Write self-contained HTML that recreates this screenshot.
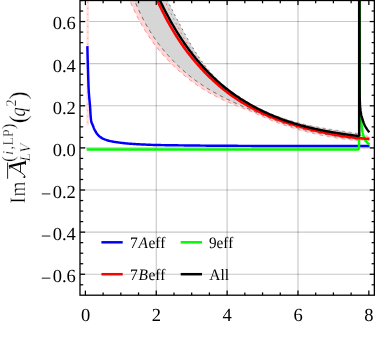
<!DOCTYPE html>
<html><head><meta charset="utf-8"><title>chart</title>
<style>html,body{margin:0;padding:0;background:#fff;}body{width:375px;height:360px;overflow:hidden;position:relative;font-family:"Liberation Serif",serif;}</style></head>
<body>
<svg width="375" height="360" viewBox="0 0 375 360" style="position:absolute;left:0;top:0;text-rendering:geometricPrecision;will-change:transform">
<rect width="375" height="360" fill="#fff"/>
<defs><clipPath id="c"><rect x="80.0" y="0" width="294.35" height="295.2"/></clipPath></defs>
<g stroke="#000" stroke-opacity="0.22" stroke-width="1.15" fill="none">
<line x1="156.26" y1="0" x2="156.26" y2="295.2"/>
<line x1="227.12" y1="0" x2="227.12" y2="295.2"/>
<line x1="297.98" y1="0" x2="297.98" y2="295.2"/>
<line x1="80.0" y1="21.54" x2="374.35" y2="21.54"/>
<line x1="80.0" y1="63.66" x2="374.35" y2="63.66"/>
<line x1="80.0" y1="105.78" x2="374.35" y2="105.78"/>
<line x1="80.0" y1="147.90" x2="374.35" y2="147.90"/>
<line x1="80.0" y1="190.02" x2="374.35" y2="190.02"/>
<line x1="80.0" y1="232.14" x2="374.35" y2="232.14"/>
<line x1="80.0" y1="274.26" x2="374.35" y2="274.26"/>
</g>
<g clip-path="url(#c)" fill="none" stroke-linejoin="round">
<rect x="86.3" y="0" width="2.7" height="125.5" fill="#ffe6e6"/>
<line x1="87.8" y1="1.5" x2="87.8" y2="125.5" stroke="#ff7070" stroke-width="0.6" stroke-dasharray="1.6,4.4"/>
<path d="M119.80,-25.39 L120.64,-22.98 L121.47,-20.62 L122.31,-18.30 L123.14,-16.02 L123.98,-13.79 L124.81,-11.59 L125.65,-9.44 L126.48,-7.33 L127.32,-5.26 L128.15,-3.22 L128.99,-1.23 L129.82,0.73 L130.66,2.65 L131.49,4.54 L132.33,6.39 L133.16,8.20 L134.00,9.98 L134.83,11.72 L135.67,13.43 L136.50,15.11 L137.34,16.76 L138.17,18.37 L139.01,19.95 L139.84,21.51 L140.68,23.03 L141.51,24.52 L142.35,25.99 L143.18,27.42 L144.02,28.83 L144.85,30.22 L145.69,31.57 L146.52,32.90 L147.36,34.21 L148.19,35.49 L149.03,36.75 L149.86,37.98 L150.70,39.19 L151.53,40.38 L152.37,41.55 L153.20,42.70 L154.04,43.82 L154.87,44.93 L155.71,46.02 L156.55,47.09 L157.38,48.14 L158.22,49.18 L159.05,50.20 L159.89,51.20 L160.72,52.19 L161.56,53.16 L162.39,54.12 L163.23,55.07 L164.06,56.00 L164.90,56.92 L165.73,57.83 L166.57,58.73 L167.40,59.61 L168.24,60.49 L169.07,61.36 L169.91,62.21 L170.74,63.06 L171.58,63.90 L172.41,64.72 L173.25,65.54 L174.08,66.35 L174.92,67.14 L175.75,67.93 L176.59,68.71 L177.42,69.48 L178.26,70.24 L179.09,70.99 L179.93,71.74 L180.76,72.47 L181.60,73.19 L182.43,73.91 L183.27,74.61 L184.10,75.31 L184.94,76.00 L185.77,76.68 L186.61,77.36 L187.44,78.02 L188.28,78.68 L189.11,79.33 L189.95,79.97 L190.78,80.60 L191.62,81.22 L192.46,81.84 L193.29,82.45 L194.13,83.05 L194.96,83.65 L195.80,84.23 L196.63,84.81 L197.47,85.38 L198.30,85.95 L199.14,86.51 L199.97,87.06 L200.81,87.60 L201.64,88.14 L202.48,88.67 L203.31,89.20 L204.15,89.71 L204.98,90.23 L205.82,90.73 L206.65,91.23 L207.49,91.72 L208.32,92.21 L209.16,92.69 L209.99,93.16 L210.83,93.63 L211.66,94.10 L212.50,94.55 L213.33,95.00 L214.17,95.45 L215.00,95.89 L215.84,96.33 L216.67,96.76 L217.51,97.18 L218.34,97.60 L219.18,98.02 L220.01,98.43 L220.85,98.84 L221.68,99.24 L222.52,99.63 L223.35,100.03 L224.19,100.42 L225.02,100.80 L225.86,101.18 L226.69,101.55 L227.53,101.92 L228.37,102.29 L229.20,102.65 L230.04,103.01 L230.87,103.37 L231.71,103.72 L232.54,104.07 L233.38,104.42 L234.21,104.76 L235.05,105.10 L235.88,105.43 L236.72,105.77 L237.55,106.10 L238.39,106.42 L239.22,106.75 L240.06,107.07 L240.89,107.39 L241.73,107.72 L242.56,108.04 L243.40,108.36 L244.23,108.69 L245.07,109.01 L245.90,109.34 L246.74,109.67 L247.57,110.01 L248.41,110.35 L249.24,110.69 L250.08,111.04 L250.91,111.40 L251.75,111.76 L252.58,112.13 L253.42,112.50 L254.25,112.87 L255.09,113.24 L255.92,113.62 L256.76,114.00 L257.59,114.38 L258.43,114.76 L259.26,115.14 L260.10,115.52 L260.93,115.89 L261.77,116.27 L262.61,116.64 L263.44,117.00 L264.28,117.37 L265.11,117.73 L265.95,118.08 L266.78,118.44 L267.62,118.79 L268.45,119.13 L269.29,119.48 L270.12,119.82 L270.96,120.16 L271.79,120.49 L272.63,120.82 L273.46,121.15 L274.30,121.47 L275.13,121.80 L275.97,122.12 L276.80,122.43 L277.64,122.74 L278.47,123.05 L279.31,123.36 L280.14,123.67 L280.98,123.97 L281.81,124.26 L282.65,124.56 L283.48,124.85 L284.32,125.14 L285.15,125.43 L285.99,125.71 L286.82,125.99 L287.66,126.27 L288.49,126.55 L289.33,126.82 L290.16,127.09 L291.00,127.36 L291.83,127.62 L292.67,127.88 L293.50,128.14 L294.34,128.40 L295.17,128.65 L296.01,128.90 L296.84,129.15 L297.68,129.39 L298.52,129.64 L299.35,129.88 L300.19,130.11 L301.02,130.35 L301.86,130.58 L302.69,130.81 L303.53,131.04 L304.36,131.26 L305.20,131.48 L306.03,131.70 L306.87,131.92 L307.70,132.13 L308.54,132.34 L309.37,132.55 L310.21,132.76 L311.04,132.96 L311.88,133.16 L312.71,133.36 L313.55,133.55 L314.38,133.75 L315.22,133.94 L316.05,134.13 L316.89,134.31 L317.72,134.50 L318.56,134.68 L319.39,134.86 L320.23,135.03 L321.06,135.21 L321.90,135.38 L322.73,135.55 L323.57,135.71 L324.40,135.88 L325.24,136.04 L326.07,136.20 L326.91,136.36 L327.74,136.51 L328.58,136.66 L329.41,136.81 L330.25,136.96 L331.08,137.11 L331.92,137.25 L332.75,137.39 L333.59,137.53 L334.43,137.67 L335.26,137.80 L336.10,137.93 L336.93,138.06 L337.77,138.19 L338.60,138.32 L339.44,138.44 L340.27,138.56 L341.11,138.68 L341.94,138.80 L342.78,138.91 L343.61,139.03 L344.45,139.14 L345.28,139.24 L346.12,139.35 L346.95,139.45 L347.79,139.56 L348.62,139.66 L349.46,139.76 L350.29,139.85 L351.13,139.95 L351.96,140.04 L352.80,140.13 L353.63,140.22 L354.47,140.30 L355.30,140.39 L356.14,140.47 L356.97,140.55 L357.81,140.63 L358.64,140.70 L359.48,140.78 L360.31,140.85 L361.15,140.92 L361.98,140.99 L362.82,141.05 L363.65,141.12 L364.49,141.18 L365.32,141.24 L366.16,141.30 L366.99,141.36 L367.83,141.41 L368.66,141.47 L369.50,141.52 L369.50,136.41 L368.77,136.30 L368.04,136.19 L367.31,136.08 L366.58,135.97 L365.85,135.86 L365.13,135.76 L364.40,135.65 L363.67,135.54 L362.94,135.43 L362.21,135.33 L361.48,135.22 L360.75,135.11 L360.02,135.00 L359.29,134.90 L358.56,134.79 L357.83,134.68 L357.11,134.58 L356.38,134.47 L355.65,134.36 L354.92,134.25 L354.19,134.15 L353.46,134.04 L352.73,133.93 L352.00,133.82 L351.27,133.72 L350.54,133.61 L349.81,133.50 L349.09,133.39 L348.36,133.28 L347.63,133.17 L346.90,133.06 L346.17,132.95 L345.44,132.84 L344.71,132.73 L343.98,132.62 L343.25,132.50 L342.52,132.39 L341.79,132.28 L341.07,132.16 L340.34,132.05 L339.61,131.93 L338.88,131.81 L338.15,131.70 L337.42,131.58 L336.69,131.46 L335.96,131.34 L335.23,131.22 L334.50,131.10 L333.77,130.97 L333.05,130.85 L332.32,130.73 L331.59,130.60 L330.86,130.47 L330.13,130.35 L329.40,130.22 L328.67,130.09 L327.94,129.96 L327.21,129.83 L326.48,129.69 L325.75,129.56 L325.03,129.42 L324.30,129.28 L323.57,129.15 L322.84,129.01 L322.11,128.86 L321.38,128.72 L320.65,128.58 L319.92,128.43 L319.19,128.29 L318.46,128.14 L317.73,127.99 L317.01,127.84 L316.28,127.68 L315.55,127.53 L314.82,127.37 L314.09,127.21 L313.36,127.05 L312.63,126.89 L311.90,126.73 L311.17,126.56 L310.44,126.40 L309.71,126.23 L308.98,126.06 L308.26,125.88 L307.53,125.71 L306.80,125.53 L306.07,125.35 L305.34,125.17 L304.61,124.99 L303.88,124.80 L303.15,124.62 L302.42,124.43 L301.69,124.24 L300.96,124.04 L300.24,123.85 L299.51,123.65 L298.78,123.45 L298.05,123.25 L297.32,123.04 L296.59,122.83 L295.86,122.63 L295.13,122.41 L294.40,122.20 L293.67,121.98 L292.94,121.76 L292.22,121.54 L291.49,121.31 L290.76,121.09 L290.03,120.86 L289.30,120.63 L288.57,120.39 L287.84,120.15 L287.11,119.91 L286.38,119.67 L285.65,119.42 L284.92,119.17 L284.20,118.92 L283.47,118.67 L282.74,118.41 L282.01,118.15 L281.28,117.88 L280.55,117.62 L279.82,117.35 L279.09,117.07 L278.36,116.80 L277.63,116.52 L276.90,116.24 L276.18,115.95 L275.45,115.66 L274.72,115.37 L273.99,115.08 L273.26,114.78 L272.53,114.48 L271.80,114.17 L271.07,113.86 L270.34,113.55 L269.61,113.24 L268.88,112.92 L268.16,112.60 L267.43,112.27 L266.70,111.94 L265.97,111.61 L265.24,111.27 L264.51,110.93 L263.78,110.59 L263.05,110.24 L262.32,109.89 L261.59,109.54 L260.86,109.18 L260.14,108.82 L259.41,108.45 L258.68,108.08 L257.95,107.71 L257.22,107.33 L256.49,106.95 L255.76,106.56 L255.03,106.17 L254.30,105.78 L253.57,105.38 L252.84,104.98 L252.12,104.58 L251.39,104.17 L250.66,103.75 L249.93,103.33 L249.20,102.91 L248.47,102.48 L247.74,102.05 L247.01,101.62 L246.28,101.18 L245.55,100.73 L244.82,100.29 L244.10,99.83 L243.37,99.38 L242.64,98.91 L241.91,98.45 L241.18,97.98 L240.45,97.50 L239.72,97.02 L238.99,96.54 L238.26,96.05 L237.53,95.56 L236.80,95.06 L236.08,94.55 L235.35,94.05 L234.62,93.53 L233.89,93.02 L233.16,92.49 L232.43,91.97 L231.70,91.43 L230.97,90.90 L230.24,90.36 L229.51,89.81 L228.78,89.26 L228.06,88.70 L227.33,88.14 L226.60,87.57 L225.87,87.00 L225.14,86.42 L224.41,85.84 L223.68,85.25 L222.95,84.65 L222.22,84.05 L221.49,83.44 L220.76,82.83 L220.04,82.21 L219.31,81.58 L218.58,80.94 L217.85,80.30 L217.12,79.65 L216.39,78.99 L215.66,78.32 L214.93,77.64 L214.20,76.96 L213.47,76.26 L212.74,75.56 L212.02,74.85 L211.29,74.12 L210.56,73.39 L209.83,72.65 L209.10,71.90 L208.37,71.13 L207.64,70.36 L206.91,69.58 L206.18,68.78 L205.45,67.97 L204.72,67.15 L203.99,66.32 L203.27,65.48 L202.54,64.62 L201.81,63.76 L201.08,62.88 L200.35,61.98 L199.62,61.08 L198.89,60.16 L198.16,59.22 L197.43,58.28 L196.70,57.31 L195.97,56.34 L195.25,55.35 L194.52,54.34 L193.79,53.32 L193.06,52.29 L192.33,51.24 L191.60,50.17 L190.87,49.09 L190.14,47.99 L189.41,46.88 L188.68,45.74 L187.95,44.60 L187.23,43.43 L186.50,42.25 L185.77,41.05 L185.04,39.83 L184.31,38.60 L183.58,37.34 L182.85,36.07 L182.12,34.79 L181.39,33.48 L180.66,32.16 L179.93,30.83 L179.21,29.48 L178.48,28.12 L177.75,26.74 L177.02,25.36 L176.29,23.96 L175.56,22.55 L174.83,21.13 L174.10,19.70 L173.37,18.26 L172.64,16.81 L171.91,15.35 L171.19,13.89 L170.46,12.42 L169.73,10.94 L169.00,9.46 L168.27,7.98 L167.54,6.49 L166.81,5.00 L166.08,3.52 L165.35,2.02 L164.62,0.54 L163.89,-0.95 L163.17,-2.44 L162.44,-3.92 L161.71,-5.40 L160.98,-6.88 L160.25,-8.35 L159.52,-9.81 L158.79,-11.26 L158.06,-12.71 L157.33,-14.15 L156.60,-15.57 L155.87,-16.99 L155.15,-18.40 L154.42,-19.79 L153.69,-21.17 L152.96,-22.54 L152.23,-23.89 L151.50,-25.22Z" fill="#ffd6d6" stroke="none"/>
<path d="M125.40,-24.94 L126.18,-22.55 L126.96,-20.21 L127.73,-17.91 L128.51,-15.66 L129.29,-13.46 L130.07,-11.29 L130.85,-9.18 L131.62,-7.10 L132.40,-5.07 L133.18,-3.07 L133.96,-1.12 L134.74,0.79 L135.51,2.66 L136.29,4.50 L137.07,6.29 L137.85,8.05 L138.62,9.77 L139.40,11.46 L140.18,13.11 L140.96,14.73 L141.74,16.32 L142.51,17.87 L143.29,19.39 L144.07,20.88 L144.85,22.33 L145.63,23.76 L146.40,25.16 L147.18,26.53 L147.96,27.88 L148.74,29.19 L149.52,30.48 L150.29,31.75 L151.07,32.99 L151.85,34.20 L152.63,35.40 L153.41,36.57 L154.18,37.71 L154.96,38.84 L155.74,39.95 L156.52,41.03 L157.29,42.10 L158.07,43.15 L158.85,44.18 L159.63,45.20 L160.41,46.20 L161.18,47.18 L161.96,48.15 L162.74,49.10 L163.52,50.05 L164.30,50.97 L165.07,51.89 L165.85,52.80 L166.63,53.69 L167.41,54.58 L168.19,55.45 L168.96,56.32 L169.74,57.17 L170.52,58.02 L171.30,58.85 L172.08,59.68 L172.85,60.49 L173.63,61.30 L174.41,62.09 L175.19,62.88 L175.97,63.66 L176.74,64.43 L177.52,65.18 L178.30,65.93 L179.08,66.67 L179.85,67.41 L180.63,68.13 L181.41,68.84 L182.19,69.55 L182.97,70.25 L183.74,70.94 L184.52,71.62 L185.30,72.29 L186.08,72.95 L186.86,73.61 L187.63,74.26 L188.41,74.90 L189.19,75.53 L189.97,76.16 L190.75,76.78 L191.52,77.39 L192.30,77.99 L193.08,78.59 L193.86,79.18 L194.64,79.76 L195.41,80.34 L196.19,80.91 L196.97,81.47 L197.75,82.03 L198.53,82.58 L199.30,83.12 L200.08,83.65 L200.86,84.19 L201.64,84.71 L202.41,85.23 L203.19,85.74 L203.97,86.25 L204.75,86.75 L205.53,87.25 L206.30,87.74 L207.08,88.22 L207.86,88.70 L208.64,89.17 L209.42,89.64 L210.19,90.11 L210.97,90.57 L211.75,91.02 L212.53,91.47 L213.31,91.92 L214.08,92.36 L214.86,92.80 L215.64,93.23 L216.42,93.66 L217.20,94.08 L217.97,94.50 L218.75,94.92 L219.53,95.33 L220.31,95.74 L221.08,96.14 L221.86,96.55 L222.64,96.94 L223.42,97.34 L224.20,97.73 L224.97,98.12 L225.75,98.51 L226.53,98.89 L227.31,99.27 L228.09,99.65 L228.86,100.02 L229.64,100.39 L230.42,100.76 L231.20,101.13 L231.98,101.49 L232.75,101.85 L233.53,102.21 L234.31,102.57 L235.09,102.93 L235.87,103.28 L236.64,103.64 L237.42,103.99 L238.20,104.33 L238.98,104.68 L239.76,105.03 L240.53,105.37 L241.31,105.72 L242.09,106.06 L242.87,106.40 L243.64,106.74 L244.42,107.08 L245.20,107.42 L245.98,107.76 L246.76,108.10 L247.53,108.44 L248.31,108.78 L249.09,109.12 L249.87,109.46 L250.65,109.81 L251.42,110.15 L252.20,110.49 L252.98,110.83 L253.76,111.17 L254.54,111.51 L255.31,111.86 L256.09,112.20 L256.87,112.54 L257.65,112.88 L258.43,113.22 L259.20,113.56 L259.98,113.90 L260.76,114.24 L261.54,114.58 L262.32,114.91 L263.09,115.25 L263.87,115.58 L264.65,115.92 L265.43,116.25 L266.20,116.58 L266.98,116.91 L267.76,117.24 L268.54,117.56 L269.32,117.89 L270.09,118.21 L270.87,118.53 L271.65,118.85 L272.43,119.17 L273.21,119.48 L273.98,119.79 L274.76,120.10 L275.54,120.41 L276.32,120.71 L277.10,121.01 L277.87,121.31 L278.65,121.61 L279.43,121.90 L280.21,122.19 L280.99,122.47 L281.76,122.76 L282.54,123.04 L283.32,123.31 L284.10,123.59 L284.87,123.86 L285.65,124.13 L286.43,124.39 L287.21,124.65 L287.99,124.91 L288.76,125.17 L289.54,125.42 L290.32,125.67 L291.10,125.92 L291.88,126.16 L292.65,126.41 L293.43,126.65 L294.21,126.88 L294.99,127.12 L295.77,127.35 L296.54,127.57 L297.32,127.80 L298.10,128.02 L298.88,128.24 L299.66,128.46 L300.43,128.68 L301.21,128.89 L301.99,129.10 L302.77,129.31 L303.55,129.51 L304.32,129.72 L305.10,129.92 L305.88,130.12 L306.66,130.31 L307.43,130.51 L308.21,130.70 L308.99,130.89 L309.77,131.07 L310.55,131.26 L311.32,131.44 L312.10,131.62 L312.88,131.80 L313.66,131.98 L314.44,132.15 L315.21,132.32 L315.99,132.49 L316.77,132.66 L317.55,132.83 L318.33,132.99 L319.10,133.15 L319.88,133.32 L320.66,133.47 L321.44,133.63 L322.22,133.79 L322.99,133.94 L323.77,134.09 L324.55,134.24 L325.33,134.39 L326.11,134.53 L326.88,134.68 L327.66,134.82 L328.44,134.96 L329.22,135.10 L329.99,135.24 L330.77,135.38 L331.55,135.52 L332.33,135.65 L333.11,135.78 L333.88,135.91 L334.66,136.04 L335.44,136.17 L336.22,136.30 L337.00,136.42 L337.77,136.55 L338.55,136.67 L339.33,136.79 L340.11,136.91 L340.89,137.03 L341.66,137.15 L342.44,137.27 L343.22,137.38 L344.00,137.50 L344.78,137.61 L345.55,137.73 L346.33,137.84 L347.11,137.95 L347.89,138.06 L348.66,138.17 L349.44,138.28 L350.22,138.38 L351.00,138.49 L351.78,138.59 L352.55,138.70 L353.33,138.80 L354.11,138.91 L354.89,139.01 L355.67,139.11 L356.44,139.21 L357.22,139.31 L358.00,139.41 L358.30,133.49 L357.62,133.39 L356.94,133.28 L356.27,133.18 L355.59,133.08 L354.91,132.98 L354.23,132.88 L353.55,132.78 L352.87,132.68 L352.20,132.58 L351.52,132.48 L350.84,132.38 L350.16,132.28 L349.48,132.18 L348.80,132.08 L348.13,131.98 L347.45,131.88 L346.77,131.78 L346.09,131.68 L345.41,131.58 L344.73,131.48 L344.06,131.38 L343.38,131.28 L342.70,131.18 L342.02,131.08 L341.34,130.98 L340.67,130.88 L339.99,130.78 L339.31,130.67 L338.63,130.57 L337.95,130.47 L337.27,130.36 L336.60,130.26 L335.92,130.16 L335.24,130.05 L334.56,129.95 L333.88,129.84 L333.20,129.73 L332.53,129.63 L331.85,129.52 L331.17,129.41 L330.49,129.30 L329.81,129.19 L329.13,129.08 L328.46,128.97 L327.78,128.85 L327.10,128.74 L326.42,128.63 L325.74,128.51 L325.07,128.40 L324.39,128.28 L323.71,128.16 L323.03,128.04 L322.35,127.92 L321.67,127.80 L321.00,127.68 L320.32,127.55 L319.64,127.43 L318.96,127.30 L318.28,127.18 L317.60,127.05 L316.93,126.92 L316.25,126.79 L315.57,126.66 L314.89,126.52 L314.21,126.39 L313.53,126.25 L312.86,126.12 L312.18,125.98 L311.50,125.84 L310.82,125.69 L310.14,125.55 L309.47,125.41 L308.79,125.26 L308.11,125.11 L307.43,124.96 L306.75,124.81 L306.07,124.66 L305.40,124.50 L304.72,124.35 L304.04,124.19 L303.36,124.03 L302.68,123.87 L302.00,123.70 L301.33,123.54 L300.65,123.37 L299.97,123.20 L299.29,123.03 L298.61,122.85 L297.93,122.68 L297.26,122.50 L296.58,122.32 L295.90,122.14 L295.22,121.96 L294.54,121.77 L293.87,121.58 L293.19,121.39 L292.51,121.20 L291.83,121.00 L291.15,120.81 L290.47,120.61 L289.80,120.41 L289.12,120.20 L288.44,119.99 L287.76,119.79 L287.08,119.57 L286.40,119.36 L285.73,119.14 L285.05,118.93 L284.37,118.70 L283.69,118.48 L283.01,118.25 L282.33,118.02 L281.66,117.79 L280.98,117.56 L280.30,117.32 L279.62,117.08 L278.94,116.84 L278.27,116.59 L277.59,116.34 L276.91,116.09 L276.23,115.84 L275.55,115.58 L274.87,115.32 L274.20,115.06 L273.52,114.79 L272.84,114.52 L272.16,114.25 L271.48,113.97 L270.80,113.70 L270.13,113.41 L269.45,113.13 L268.77,112.84 L268.09,112.55 L267.41,112.26 L266.73,111.96 L266.06,111.66 L265.38,111.35 L264.70,111.05 L264.02,110.74 L263.34,110.42 L262.67,110.10 L261.99,109.78 L261.31,109.46 L260.63,109.13 L259.95,108.80 L259.27,108.46 L258.60,108.13 L257.92,107.78 L257.24,107.44 L256.56,107.09 L255.88,106.73 L255.20,106.38 L254.53,106.02 L253.85,105.65 L253.17,105.28 L252.49,104.91 L251.81,104.54 L251.13,104.16 L250.46,103.77 L249.78,103.38 L249.10,102.99 L248.42,102.60 L247.74,102.20 L247.07,101.79 L246.39,101.39 L245.71,100.97 L245.03,100.56 L244.35,100.14 L243.67,99.71 L243.00,99.28 L242.32,98.85 L241.64,98.41 L240.96,97.97 L240.28,97.53 L239.60,97.08 L238.93,96.62 L238.25,96.16 L237.57,95.70 L236.89,95.23 L236.21,94.76 L235.53,94.28 L234.86,93.80 L234.18,93.32 L233.50,92.83 L232.82,92.33 L232.14,91.83 L231.47,91.33 L230.79,90.82 L230.11,90.30 L229.43,89.78 L228.75,89.26 L228.07,88.72 L227.40,88.18 L226.72,87.64 L226.04,87.09 L225.36,86.53 L224.68,85.96 L224.00,85.39 L223.33,84.81 L222.65,84.22 L221.97,83.63 L221.29,83.02 L220.61,82.41 L219.93,81.79 L219.26,81.16 L218.58,80.52 L217.90,79.88 L217.22,79.22 L216.54,78.56 L215.87,77.88 L215.19,77.20 L214.51,76.50 L213.83,75.79 L213.15,75.08 L212.47,74.35 L211.80,73.62 L211.12,72.87 L210.44,72.11 L209.76,71.34 L209.08,70.55 L208.40,69.76 L207.73,68.95 L207.05,68.13 L206.37,67.30 L205.69,66.46 L205.01,65.60 L204.33,64.73 L203.66,63.85 L202.98,62.95 L202.30,62.04 L201.62,61.11 L200.94,60.17 L200.27,59.22 L199.59,58.25 L198.91,57.27 L198.23,56.27 L197.55,55.26 L196.87,54.23 L196.20,53.19 L195.52,52.13 L194.84,51.06 L194.16,49.97 L193.48,48.87 L192.80,47.76 L192.13,46.63 L191.45,45.49 L190.77,44.34 L190.09,43.17 L189.41,42.00 L188.73,40.82 L188.06,39.62 L187.38,38.42 L186.70,37.21 L186.02,35.98 L185.34,34.75 L184.67,33.52 L183.99,32.27 L183.31,31.02 L182.63,29.76 L181.95,28.50 L181.27,27.23 L180.60,25.96 L179.92,24.68 L179.24,23.40 L178.56,22.11 L177.88,20.82 L177.20,19.53 L176.53,18.24 L175.85,16.94 L175.17,15.64 L174.49,14.33 L173.81,13.02 L173.13,11.71 L172.46,10.39 L171.78,9.07 L171.10,7.74 L170.42,6.41 L169.74,5.07 L169.07,3.72 L168.39,2.38 L167.71,1.02 L167.03,-0.34 L166.35,-1.70 L165.67,-3.07 L165.00,-4.45 L164.32,-5.84 L163.64,-7.23 L162.96,-8.63 L162.28,-10.03 L161.60,-11.45 L160.93,-12.87 L160.25,-14.29 L159.57,-15.73 L158.89,-17.17 L158.21,-18.62 L157.53,-20.08 L156.86,-21.55 L156.18,-23.03 L155.50,-24.51Z" fill="#d6d6d6" stroke="none"/>
<path d="M119.80,-25.39 L120.64,-22.98 L121.47,-20.62 L122.31,-18.30 L123.14,-16.02 L123.98,-13.79 L124.81,-11.59 L125.65,-9.44 L126.48,-7.33 L127.32,-5.26 L128.15,-3.22 L128.99,-1.23 L129.82,0.73 L130.66,2.65 L131.49,4.54 L132.33,6.39 L133.16,8.20 L134.00,9.98 L134.83,11.72 L135.67,13.43 L136.50,15.11 L137.34,16.76 L138.17,18.37 L139.01,19.95 L139.84,21.51 L140.68,23.03 L141.51,24.52 L142.35,25.99 L143.18,27.42 L144.02,28.83 L144.85,30.22 L145.69,31.57 L146.52,32.90 L147.36,34.21 L148.19,35.49 L149.03,36.75 L149.86,37.98 L150.70,39.19 L151.53,40.38 L152.37,41.55 L153.20,42.70 L154.04,43.82 L154.87,44.93 L155.71,46.02 L156.55,47.09 L157.38,48.14 L158.22,49.18 L159.05,50.20 L159.89,51.20 L160.72,52.19 L161.56,53.16 L162.39,54.12 L163.23,55.07 L164.06,56.00 L164.90,56.92 L165.73,57.83 L166.57,58.73 L167.40,59.61 L168.24,60.49 L169.07,61.36 L169.91,62.21 L170.74,63.06 L171.58,63.90 L172.41,64.72 L173.25,65.54 L174.08,66.35 L174.92,67.14 L175.75,67.93 L176.59,68.71 L177.42,69.48 L178.26,70.24 L179.09,70.99 L179.93,71.74 L180.76,72.47 L181.60,73.19 L182.43,73.91 L183.27,74.61 L184.10,75.31 L184.94,76.00 L185.77,76.68 L186.61,77.36 L187.44,78.02 L188.28,78.68 L189.11,79.33 L189.95,79.97 L190.78,80.60 L191.62,81.22 L192.46,81.84 L193.29,82.45 L194.13,83.05 L194.96,83.65 L195.80,84.23 L196.63,84.81 L197.47,85.38 L198.30,85.95 L199.14,86.51 L199.97,87.06 L200.81,87.60 L201.64,88.14 L202.48,88.67 L203.31,89.20 L204.15,89.71 L204.98,90.23 L205.82,90.73 L206.65,91.23 L207.49,91.72 L208.32,92.21 L209.16,92.69 L209.99,93.16 L210.83,93.63 L211.66,94.10 L212.50,94.55 L213.33,95.00 L214.17,95.45 L215.00,95.89 L215.84,96.33 L216.67,96.76 L217.51,97.18 L218.34,97.60 L219.18,98.02 L220.01,98.43 L220.85,98.84 L221.68,99.24 L222.52,99.63 L223.35,100.03 L224.19,100.42 L225.02,100.80 L225.86,101.18 L226.69,101.55 L227.53,101.92 L228.37,102.29 L229.20,102.65 L230.04,103.01 L230.87,103.37 L231.71,103.72 L232.54,104.07 L233.38,104.42 L234.21,104.76 L235.05,105.10 L235.88,105.43 L236.72,105.77 L237.55,106.10 L238.39,106.42 L239.22,106.75 L240.06,107.07 L240.89,107.39 L241.73,107.72 L242.56,108.04 L243.40,108.36 L244.23,108.69 L245.07,109.01 L245.90,109.34 L246.74,109.67 L247.57,110.01 L248.41,110.35 L249.24,110.69 L250.08,111.04 L250.91,111.40 L251.75,111.76 L252.58,112.13 L253.42,112.50 L254.25,112.87 L255.09,113.24 L255.92,113.62 L256.76,114.00 L257.59,114.38 L258.43,114.76 L259.26,115.14 L260.10,115.52 L260.93,115.89 L261.77,116.27 L262.61,116.64 L263.44,117.00 L264.28,117.37 L265.11,117.73 L265.95,118.08 L266.78,118.44 L267.62,118.79 L268.45,119.13 L269.29,119.48 L270.12,119.82 L270.96,120.16 L271.79,120.49 L272.63,120.82 L273.46,121.15 L274.30,121.47 L275.13,121.80 L275.97,122.12 L276.80,122.43 L277.64,122.74 L278.47,123.05 L279.31,123.36 L280.14,123.67 L280.98,123.97 L281.81,124.26 L282.65,124.56 L283.48,124.85 L284.32,125.14 L285.15,125.43 L285.99,125.71 L286.82,125.99 L287.66,126.27 L288.49,126.55 L289.33,126.82 L290.16,127.09 L291.00,127.36 L291.83,127.62 L292.67,127.88 L293.50,128.14 L294.34,128.40 L295.17,128.65 L296.01,128.90 L296.84,129.15 L297.68,129.39 L298.52,129.64 L299.35,129.88 L300.19,130.11 L301.02,130.35 L301.86,130.58 L302.69,130.81 L303.53,131.04 L304.36,131.26 L305.20,131.48 L306.03,131.70 L306.87,131.92 L307.70,132.13 L308.54,132.34 L309.37,132.55 L310.21,132.76 L311.04,132.96 L311.88,133.16 L312.71,133.36 L313.55,133.55 L314.38,133.75 L315.22,133.94 L316.05,134.13 L316.89,134.31 L317.72,134.50 L318.56,134.68 L319.39,134.86 L320.23,135.03 L321.06,135.21 L321.90,135.38 L322.73,135.55 L323.57,135.71 L324.40,135.88 L325.24,136.04 L326.07,136.20 L326.91,136.36 L327.74,136.51 L328.58,136.66 L329.41,136.81 L330.25,136.96 L331.08,137.11 L331.92,137.25 L332.75,137.39 L333.59,137.53 L334.43,137.67 L335.26,137.80 L336.10,137.93 L336.93,138.06 L337.77,138.19 L338.60,138.32 L339.44,138.44 L340.27,138.56 L341.11,138.68 L341.94,138.80 L342.78,138.91 L343.61,139.03 L344.45,139.14 L345.28,139.24 L346.12,139.35 L346.95,139.45 L347.79,139.56 L348.62,139.66 L349.46,139.76 L350.29,139.85 L351.13,139.95 L351.96,140.04 L352.80,140.13 L353.63,140.22 L354.47,140.30 L355.30,140.39 L356.14,140.47 L356.97,140.55 L357.81,140.63 L358.64,140.70 L359.48,140.78 L360.31,140.85 L361.15,140.92 L361.98,140.99 L362.82,141.05 L363.65,141.12 L364.49,141.18 L365.32,141.24 L366.16,141.30 L366.99,141.36 L367.83,141.41 L368.66,141.47 L369.50,141.52" stroke="#ff3030" stroke-opacity="0.75" stroke-width="0.65" stroke-dasharray="3.8,3.7"/>
<path d="M151.50,-25.22 L152.23,-23.89 L152.96,-22.54 L153.69,-21.17 L154.42,-19.79 L155.15,-18.40 L155.87,-16.99 L156.60,-15.57 L157.33,-14.15 L158.06,-12.71 L158.79,-11.26 L159.52,-9.81 L160.25,-8.35 L160.98,-6.88 L161.71,-5.40 L162.44,-3.92 L163.17,-2.44 L163.89,-0.95 L164.62,0.54 L165.35,2.02 L166.08,3.52 L166.81,5.00 L167.54,6.49 L168.27,7.98 L169.00,9.46 L169.73,10.94 L170.46,12.42 L171.19,13.89 L171.91,15.35 L172.64,16.81 L173.37,18.26 L174.10,19.70 L174.83,21.13 L175.56,22.55 L176.29,23.96 L177.02,25.36 L177.75,26.74 L178.48,28.12 L179.21,29.48 L179.93,30.83 L180.66,32.16 L181.39,33.48 L182.12,34.79 L182.85,36.07 L183.58,37.34 L184.31,38.60 L185.04,39.83 L185.77,41.05 L186.50,42.25 L187.23,43.43 L187.95,44.60 L188.68,45.74 L189.41,46.88 L190.14,47.99 L190.87,49.09 L191.60,50.17 L192.33,51.24 L193.06,52.29 L193.79,53.32 L194.52,54.34 L195.25,55.35 L195.97,56.34 L196.70,57.31 L197.43,58.28 L198.16,59.22 L198.89,60.16 L199.62,61.08 L200.35,61.98 L201.08,62.88 L201.81,63.76 L202.54,64.62 L203.27,65.48 L203.99,66.32 L204.72,67.15 L205.45,67.97 L206.18,68.78 L206.91,69.58 L207.64,70.36 L208.37,71.13 L209.10,71.90 L209.83,72.65 L210.56,73.39 L211.29,74.12 L212.02,74.85 L212.74,75.56 L213.47,76.26 L214.20,76.96 L214.93,77.64 L215.66,78.32 L216.39,78.99 L217.12,79.65 L217.85,80.30 L218.58,80.94 L219.31,81.58 L220.04,82.21 L220.76,82.83 L221.49,83.44 L222.22,84.05 L222.95,84.65 L223.68,85.25 L224.41,85.84 L225.14,86.42 L225.87,87.00 L226.60,87.57 L227.33,88.14 L228.06,88.70 L228.78,89.26 L229.51,89.81 L230.24,90.36 L230.97,90.90 L231.70,91.43 L232.43,91.97 L233.16,92.49 L233.89,93.02 L234.62,93.53 L235.35,94.05 L236.08,94.55 L236.80,95.06 L237.53,95.56 L238.26,96.05 L238.99,96.54 L239.72,97.02 L240.45,97.50 L241.18,97.98 L241.91,98.45 L242.64,98.91 L243.37,99.38 L244.10,99.83 L244.82,100.29 L245.55,100.73 L246.28,101.18 L247.01,101.62 L247.74,102.05 L248.47,102.48 L249.20,102.91 L249.93,103.33 L250.66,103.75 L251.39,104.17 L252.12,104.58 L252.84,104.98 L253.57,105.38 L254.30,105.78 L255.03,106.17 L255.76,106.56 L256.49,106.95 L257.22,107.33 L257.95,107.71 L258.68,108.08 L259.41,108.45 L260.14,108.82 L260.86,109.18 L261.59,109.54 L262.32,109.89 L263.05,110.24 L263.78,110.59 L264.51,110.93 L265.24,111.27 L265.97,111.61 L266.70,111.94 L267.43,112.27 L268.16,112.60 L268.88,112.92 L269.61,113.24 L270.34,113.55 L271.07,113.86 L271.80,114.17 L272.53,114.48 L273.26,114.78 L273.99,115.08 L274.72,115.37 L275.45,115.66 L276.18,115.95 L276.90,116.24 L277.63,116.52 L278.36,116.80 L279.09,117.07 L279.82,117.35 L280.55,117.62 L281.28,117.88 L282.01,118.15 L282.74,118.41 L283.47,118.67 L284.20,118.92 L284.92,119.17 L285.65,119.42 L286.38,119.67 L287.11,119.91 L287.84,120.15 L288.57,120.39 L289.30,120.63 L290.03,120.86 L290.76,121.09 L291.49,121.31 L292.22,121.54 L292.94,121.76 L293.67,121.98 L294.40,122.20 L295.13,122.41 L295.86,122.63 L296.59,122.83 L297.32,123.04 L298.05,123.25 L298.78,123.45 L299.51,123.65 L300.24,123.85 L300.96,124.04 L301.69,124.24 L302.42,124.43 L303.15,124.62 L303.88,124.80 L304.61,124.99 L305.34,125.17 L306.07,125.35 L306.80,125.53 L307.53,125.71 L308.26,125.88 L308.98,126.06 L309.71,126.23 L310.44,126.40 L311.17,126.56 L311.90,126.73 L312.63,126.89 L313.36,127.05 L314.09,127.21 L314.82,127.37 L315.55,127.53 L316.28,127.68 L317.01,127.84 L317.73,127.99 L318.46,128.14 L319.19,128.29 L319.92,128.43 L320.65,128.58 L321.38,128.72 L322.11,128.86 L322.84,129.01 L323.57,129.15 L324.30,129.28 L325.03,129.42 L325.75,129.56 L326.48,129.69 L327.21,129.83 L327.94,129.96 L328.67,130.09 L329.40,130.22 L330.13,130.35 L330.86,130.47 L331.59,130.60 L332.32,130.73 L333.05,130.85 L333.77,130.97 L334.50,131.10 L335.23,131.22 L335.96,131.34 L336.69,131.46 L337.42,131.58 L338.15,131.70 L338.88,131.81 L339.61,131.93 L340.34,132.05 L341.07,132.16 L341.79,132.28 L342.52,132.39 L343.25,132.50 L343.98,132.62 L344.71,132.73 L345.44,132.84 L346.17,132.95 L346.90,133.06 L347.63,133.17 L348.36,133.28 L349.09,133.39 L349.81,133.50 L350.54,133.61 L351.27,133.72 L352.00,133.82 L352.73,133.93 L353.46,134.04 L354.19,134.15 L354.92,134.25 L355.65,134.36 L356.38,134.47 L357.11,134.58 L357.83,134.68 L358.56,134.79 L359.29,134.90 L360.02,135.00 L360.75,135.11 L361.48,135.22 L362.21,135.33 L362.94,135.43 L363.67,135.54 L364.40,135.65 L365.13,135.76 L365.85,135.86 L366.58,135.97 L367.31,136.08 L368.04,136.19 L368.77,136.30 L369.50,136.41" stroke="#ff3030" stroke-opacity="0.8" stroke-width="0.75" stroke-dasharray="1.8,3.6"/>
<path d="M125.40,-24.94 L126.18,-22.55 L126.96,-20.21 L127.73,-17.91 L128.51,-15.66 L129.29,-13.46 L130.07,-11.29 L130.85,-9.18 L131.62,-7.10 L132.40,-5.07 L133.18,-3.07 L133.96,-1.12 L134.74,0.79 L135.51,2.66 L136.29,4.50 L137.07,6.29 L137.85,8.05 L138.62,9.77 L139.40,11.46 L140.18,13.11 L140.96,14.73 L141.74,16.32 L142.51,17.87 L143.29,19.39 L144.07,20.88 L144.85,22.33 L145.63,23.76 L146.40,25.16 L147.18,26.53 L147.96,27.88 L148.74,29.19 L149.52,30.48 L150.29,31.75 L151.07,32.99 L151.85,34.20 L152.63,35.40 L153.41,36.57 L154.18,37.71 L154.96,38.84 L155.74,39.95 L156.52,41.03 L157.29,42.10 L158.07,43.15 L158.85,44.18 L159.63,45.20 L160.41,46.20 L161.18,47.18 L161.96,48.15 L162.74,49.10 L163.52,50.05 L164.30,50.97 L165.07,51.89 L165.85,52.80 L166.63,53.69 L167.41,54.58 L168.19,55.45 L168.96,56.32 L169.74,57.17 L170.52,58.02 L171.30,58.85 L172.08,59.68 L172.85,60.49 L173.63,61.30 L174.41,62.09 L175.19,62.88 L175.97,63.66 L176.74,64.43 L177.52,65.18 L178.30,65.93 L179.08,66.67 L179.85,67.41 L180.63,68.13 L181.41,68.84 L182.19,69.55 L182.97,70.25 L183.74,70.94 L184.52,71.62 L185.30,72.29 L186.08,72.95 L186.86,73.61 L187.63,74.26 L188.41,74.90 L189.19,75.53 L189.97,76.16 L190.75,76.78 L191.52,77.39 L192.30,77.99 L193.08,78.59 L193.86,79.18 L194.64,79.76 L195.41,80.34 L196.19,80.91 L196.97,81.47 L197.75,82.03 L198.53,82.58 L199.30,83.12 L200.08,83.65 L200.86,84.19 L201.64,84.71 L202.41,85.23 L203.19,85.74 L203.97,86.25 L204.75,86.75 L205.53,87.25 L206.30,87.74 L207.08,88.22 L207.86,88.70 L208.64,89.17 L209.42,89.64 L210.19,90.11 L210.97,90.57 L211.75,91.02 L212.53,91.47 L213.31,91.92 L214.08,92.36 L214.86,92.80 L215.64,93.23 L216.42,93.66 L217.20,94.08 L217.97,94.50 L218.75,94.92 L219.53,95.33 L220.31,95.74 L221.08,96.14 L221.86,96.55 L222.64,96.94 L223.42,97.34 L224.20,97.73 L224.97,98.12 L225.75,98.51 L226.53,98.89 L227.31,99.27 L228.09,99.65 L228.86,100.02 L229.64,100.39 L230.42,100.76 L231.20,101.13 L231.98,101.49 L232.75,101.85 L233.53,102.21 L234.31,102.57 L235.09,102.93 L235.87,103.28 L236.64,103.64 L237.42,103.99 L238.20,104.33 L238.98,104.68 L239.76,105.03 L240.53,105.37 L241.31,105.72 L242.09,106.06 L242.87,106.40 L243.64,106.74 L244.42,107.08 L245.20,107.42 L245.98,107.76 L246.76,108.10 L247.53,108.44 L248.31,108.78 L249.09,109.12 L249.87,109.46 L250.65,109.81 L251.42,110.15 L252.20,110.49 L252.98,110.83 L253.76,111.17 L254.54,111.51 L255.31,111.86 L256.09,112.20 L256.87,112.54 L257.65,112.88 L258.43,113.22 L259.20,113.56 L259.98,113.90 L260.76,114.24 L261.54,114.58 L262.32,114.91 L263.09,115.25 L263.87,115.58 L264.65,115.92 L265.43,116.25 L266.20,116.58 L266.98,116.91 L267.76,117.24 L268.54,117.56 L269.32,117.89 L270.09,118.21 L270.87,118.53 L271.65,118.85 L272.43,119.17 L273.21,119.48 L273.98,119.79 L274.76,120.10 L275.54,120.41 L276.32,120.71 L277.10,121.01 L277.87,121.31 L278.65,121.61 L279.43,121.90 L280.21,122.19 L280.99,122.47 L281.76,122.76 L282.54,123.04 L283.32,123.31 L284.10,123.59 L284.87,123.86 L285.65,124.13 L286.43,124.39 L287.21,124.65 L287.99,124.91 L288.76,125.17 L289.54,125.42 L290.32,125.67 L291.10,125.92 L291.88,126.16 L292.65,126.41 L293.43,126.65 L294.21,126.88 L294.99,127.12 L295.77,127.35 L296.54,127.57 L297.32,127.80 L298.10,128.02 L298.88,128.24 L299.66,128.46 L300.43,128.68 L301.21,128.89 L301.99,129.10 L302.77,129.31 L303.55,129.51 L304.32,129.72 L305.10,129.92 L305.88,130.12 L306.66,130.31 L307.43,130.51 L308.21,130.70 L308.99,130.89 L309.77,131.07 L310.55,131.26 L311.32,131.44 L312.10,131.62 L312.88,131.80 L313.66,131.98 L314.44,132.15 L315.21,132.32 L315.99,132.49 L316.77,132.66 L317.55,132.83 L318.33,132.99 L319.10,133.15 L319.88,133.32 L320.66,133.47 L321.44,133.63 L322.22,133.79 L322.99,133.94 L323.77,134.09 L324.55,134.24 L325.33,134.39 L326.11,134.53 L326.88,134.68 L327.66,134.82 L328.44,134.96 L329.22,135.10 L329.99,135.24 L330.77,135.38 L331.55,135.52 L332.33,135.65 L333.11,135.78 L333.88,135.91 L334.66,136.04 L335.44,136.17 L336.22,136.30 L337.00,136.42 L337.77,136.55 L338.55,136.67 L339.33,136.79 L340.11,136.91 L340.89,137.03 L341.66,137.15 L342.44,137.27 L343.22,137.38 L344.00,137.50 L344.78,137.61 L345.55,137.73 L346.33,137.84 L347.11,137.95 L347.89,138.06 L348.66,138.17 L349.44,138.28 L350.22,138.38 L351.00,138.49 L351.78,138.59 L352.55,138.70 L353.33,138.80 L354.11,138.91 L354.89,139.01 L355.67,139.11 L356.44,139.21 L357.22,139.31 L358.00,139.41" stroke="#000" stroke-opacity="0.75" stroke-width="0.7" stroke-dasharray="3.8,3.7"/>
<path d="M155.50,-24.51 L156.18,-23.03 L156.86,-21.55 L157.53,-20.08 L158.21,-18.62 L158.89,-17.17 L159.57,-15.73 L160.25,-14.29 L160.93,-12.87 L161.60,-11.45 L162.28,-10.03 L162.96,-8.63 L163.64,-7.23 L164.32,-5.84 L165.00,-4.45 L165.67,-3.07 L166.35,-1.70 L167.03,-0.34 L167.71,1.02 L168.39,2.38 L169.07,3.72 L169.74,5.07 L170.42,6.41 L171.10,7.74 L171.78,9.07 L172.46,10.39 L173.13,11.71 L173.81,13.02 L174.49,14.33 L175.17,15.64 L175.85,16.94 L176.53,18.24 L177.20,19.53 L177.88,20.82 L178.56,22.11 L179.24,23.40 L179.92,24.68 L180.60,25.96 L181.27,27.23 L181.95,28.50 L182.63,29.76 L183.31,31.02 L183.99,32.27 L184.67,33.52 L185.34,34.75 L186.02,35.98 L186.70,37.21 L187.38,38.42 L188.06,39.62 L188.73,40.82 L189.41,42.00 L190.09,43.17 L190.77,44.34 L191.45,45.49 L192.13,46.63 L192.80,47.76 L193.48,48.87 L194.16,49.97 L194.84,51.06 L195.52,52.13 L196.20,53.19 L196.87,54.23 L197.55,55.26 L198.23,56.27 L198.91,57.27 L199.59,58.25 L200.27,59.22 L200.94,60.17 L201.62,61.11 L202.30,62.04 L202.98,62.95 L203.66,63.85 L204.33,64.73 L205.01,65.60 L205.69,66.46 L206.37,67.30 L207.05,68.13 L207.73,68.95 L208.40,69.76 L209.08,70.55 L209.76,71.34 L210.44,72.11 L211.12,72.87 L211.80,73.62 L212.47,74.35 L213.15,75.08 L213.83,75.79 L214.51,76.50 L215.19,77.20 L215.87,77.88 L216.54,78.56 L217.22,79.22 L217.90,79.88 L218.58,80.52 L219.26,81.16 L219.93,81.79 L220.61,82.41 L221.29,83.02 L221.97,83.63 L222.65,84.22 L223.33,84.81 L224.00,85.39 L224.68,85.96 L225.36,86.53 L226.04,87.09 L226.72,87.64 L227.40,88.18 L228.07,88.72 L228.75,89.26 L229.43,89.78 L230.11,90.30 L230.79,90.82 L231.47,91.33" stroke="#000" stroke-opacity="0.75" stroke-width="0.75" stroke-dasharray="1.8,3.6"/>
<path d="M231.47,91.33 L232.14,91.83 L232.82,92.33 L233.50,92.83 L234.18,93.32 L234.86,93.80 L235.53,94.28 L236.21,94.76 L236.89,95.23 L237.57,95.70 L238.25,96.16 L238.93,96.62 L239.60,97.08 L240.28,97.53 L240.96,97.97 L241.64,98.41 L242.32,98.85 L243.00,99.28 L243.67,99.71 L244.35,100.14 L245.03,100.56 L245.71,100.97 L246.39,101.39 L247.07,101.79 L247.74,102.20 L248.42,102.60 L249.10,102.99 L249.78,103.38 L250.46,103.77 L251.13,104.16 L251.81,104.54 L252.49,104.91 L253.17,105.28 L253.85,105.65 L254.53,106.02 L255.20,106.38 L255.88,106.73 L256.56,107.09 L257.24,107.44 L257.92,107.78 L258.60,108.13 L259.27,108.46 L259.95,108.80 L260.63,109.13 L261.31,109.46 L261.99,109.78 L262.67,110.10 L263.34,110.42 L264.02,110.74 L264.70,111.05 L265.38,111.35 L266.06,111.66 L266.73,111.96 L267.41,112.26 L268.09,112.55 L268.77,112.84 L269.45,113.13 L270.13,113.41 L270.80,113.70 L271.48,113.97 L272.16,114.25 L272.84,114.52 L273.52,114.79 L274.20,115.06 L274.87,115.32 L275.55,115.58 L276.23,115.84 L276.91,116.09 L277.59,116.34 L278.27,116.59 L278.94,116.84 L279.62,117.08 L280.30,117.32 L280.98,117.56 L281.66,117.79 L282.33,118.02 L283.01,118.25 L283.69,118.48 L284.37,118.70 L285.05,118.93 L285.73,119.14 L286.40,119.36 L287.08,119.57 L287.76,119.79 L288.44,119.99 L289.12,120.20 L289.80,120.41 L290.47,120.61 L291.15,120.81 L291.83,121.00 L292.51,121.20 L293.19,121.39 L293.87,121.58 L294.54,121.77 L295.22,121.96 L295.90,122.14 L296.58,122.32 L297.26,122.50 L297.93,122.68 L298.61,122.85 L299.29,123.03 L299.97,123.20 L300.65,123.37 L301.33,123.54 L302.00,123.70 L302.68,123.87 L303.36,124.03 L304.04,124.19 L304.72,124.35 L305.40,124.50 L306.07,124.66 L306.75,124.81 L307.43,124.96 L308.11,125.11 L308.79,125.26 L309.47,125.41 L310.14,125.55 L310.82,125.69 L311.50,125.84 L312.18,125.98 L312.86,126.12 L313.53,126.25 L314.21,126.39 L314.89,126.52 L315.57,126.66 L316.25,126.79 L316.93,126.92 L317.60,127.05 L318.28,127.18 L318.96,127.30 L319.64,127.43 L320.32,127.55 L321.00,127.68 L321.67,127.80 L322.35,127.92 L323.03,128.04 L323.71,128.16 L324.39,128.28 L325.07,128.40 L325.74,128.51 L326.42,128.63 L327.10,128.74 L327.78,128.85 L328.46,128.97 L329.13,129.08 L329.81,129.19 L330.49,129.30 L331.17,129.41 L331.85,129.52 L332.53,129.63 L333.20,129.73 L333.88,129.84 L334.56,129.95 L335.24,130.05 L335.92,130.16 L336.60,130.26 L337.27,130.36 L337.95,130.47 L338.63,130.57 L339.31,130.67 L339.99,130.78 L340.67,130.88 L341.34,130.98 L342.02,131.08 L342.70,131.18 L343.38,131.28 L344.06,131.38 L344.73,131.48 L345.41,131.58 L346.09,131.68 L346.77,131.78 L347.45,131.88 L348.13,131.98 L348.80,132.08 L349.48,132.18 L350.16,132.28 L350.84,132.38 L351.52,132.48 L352.20,132.58 L352.87,132.68 L353.55,132.78 L354.23,132.88 L354.91,132.98 L355.59,133.08 L356.27,133.18 L356.94,133.28 L357.62,133.39 L358.30,133.49" stroke="#000" stroke-opacity="0.45" stroke-width="0.7" stroke-dasharray="3.2,3.4"/>
<path d="M87.35,46.10 L87.37,47.01 L87.39,47.92 L87.41,48.84 L87.44,49.75 L87.46,50.66 L87.48,51.57 L87.50,52.48 L87.53,53.40 L87.55,54.31 L87.58,55.22 L87.60,56.13 L87.62,57.04 L87.65,57.96 L87.67,58.87 L87.70,59.78 L87.73,60.69 L87.75,61.60 L87.78,62.51 L87.80,63.43 L87.83,64.34 L87.86,65.25 L87.88,66.16 L87.91,67.07 L87.94,67.99 L87.97,68.90 L87.99,69.81 L88.02,70.72 L88.05,71.63 L88.08,72.55 L88.10,73.46 L88.13,74.37 L88.16,75.28 L88.18,76.19 L88.21,77.11 L88.24,78.02 L88.27,78.93 L88.30,79.84 L88.33,80.75 L88.36,81.67 L88.39,82.58 L88.42,83.49 L88.46,84.40 L88.49,85.31 L88.53,86.22 L88.57,87.13 L88.61,88.05 L88.65,88.96 L88.69,89.87 L88.74,90.78 L88.80,91.69 L88.86,92.60 L88.92,93.51 L88.99,94.42 L89.06,95.33 L89.14,96.23 L89.22,97.14 L89.30,98.05 L89.38,98.96 L89.47,99.87 L89.55,100.78 L89.64,101.69 L89.72,102.60 L89.80,103.50 L89.88,104.41 L89.96,105.32 L90.03,106.23 L90.10,107.15 L90.16,108.06 L90.22,108.98 L90.27,109.90 L90.33,110.83 L90.38,111.75 L90.43,112.67 L90.48,113.59 L90.54,114.51 L90.61,115.43 L90.67,116.34 L90.75,117.25 L90.84,118.15 L90.93,119.05 L91.04,119.94 L91.16,120.82 L91.30,121.69 L91.54,122.54 L91.92,123.38 L92.33,124.22 L92.69,125.06 L93.02,125.91 L93.35,126.77 L93.68,127.62 L94.03,128.46 L94.40,129.29 L94.80,130.11 L95.23,130.92 L95.68,131.73 L96.16,132.51 L96.66,133.25 L97.21,133.97 L97.80,134.69 L98.42,135.38 L99.08,136.03 L99.76,136.62 L100.47,137.14 L101.23,137.64 L102.02,138.12 L102.84,138.55 L103.68,138.96 L104.52,139.32 L105.36,139.63 L106.21,139.93 L107.08,140.21 L107.96,140.47 L108.84,140.72 L109.73,140.95 L110.63,141.16 L111.52,141.36 L112.42,141.54 L113.32,141.70 L114.21,141.85 L115.11,142.00 L116.00,142.14 L116.90,142.28 L117.81,142.41 L118.71,142.54 L119.62,142.66 L120.52,142.77 L121.43,142.88 L122.34,142.99 L123.25,143.09 L124.16,143.19 L125.07,143.28 L125.98,143.37 L126.89,143.45 L127.80,143.53 L128.71,143.60 L129.62,143.67 L130.53,143.74 L131.44,143.80 L132.34,143.86 L133.25,143.92 L134.16,143.98 L135.07,144.04 L135.98,144.10 L136.89,144.16 L137.80,144.21 L138.72,144.26 L139.63,144.31 L140.54,144.36 L141.45,144.41 L142.36,144.46 L143.27,144.51 L144.18,144.55 L145.10,144.59 L146.01,144.63 L146.92,144.67 L147.83,144.71 L148.74,144.75 L149.66,144.78 L150.57,144.82 L151.48,144.85 L152.39,144.88 L153.30,144.91 L154.22,144.93 L155.13,144.96 L156.04,144.98 L156.95,145.01 L157.86,145.03 L158.78,145.05 L159.69,145.07 L160.60,145.08 L161.51,145.10 L162.42,145.12 L163.34,145.13 L164.25,145.15 L165.16,145.16 L166.07,145.18 L166.98,145.19 L167.90,145.21 L168.81,145.22 L169.72,145.23 L170.63,145.24 L171.55,145.26 L172.46,145.27 L173.37,145.28 L174.28,145.29 L175.19,145.30 L176.11,145.31 L177.02,145.33 L177.93,145.34 L178.84,145.35 L179.76,145.36 L180.67,145.37 L181.58,145.38 L182.49,145.39 L183.40,145.40 L184.32,145.42 L185.23,145.43 L186.14,145.44 L187.05,145.45 L187.97,145.46 L188.88,145.47 L189.79,145.48 L190.70,145.49 L191.61,145.50 L192.53,145.51 L193.44,145.52 L194.35,145.53 L195.26,145.54 L196.18,145.55 L197.09,145.56 L198.00,145.57 L198.91,145.58 L199.82,145.59 L200.74,145.60 L201.65,145.61 L202.56,145.62 L203.47,145.63 L204.38,145.64 L205.30,145.65 L206.21,145.65 L207.12,145.66 L208.03,145.67 L208.95,145.68 L209.86,145.69 L210.77,145.69 L211.68,145.70 L212.59,145.71 L213.51,145.72 L214.42,145.72 L215.33,145.73 L216.24,145.74 L217.16,145.74 L218.07,145.75 L218.98,145.76 L219.89,145.76 L220.80,145.77 L221.72,145.77 L222.63,145.78 L223.54,145.78 L224.45,145.79 L225.37,145.79 L226.28,145.80 L227.19,145.80 L228.10,145.80 L229.01,145.81 L229.93,145.81 L230.84,145.82 L231.75,145.82 L232.66,145.82 L233.58,145.83 L234.49,145.83 L235.40,145.84 L236.31,145.84 L237.22,145.84 L238.14,145.85 L239.05,145.85 L239.96,145.86 L240.87,145.86 L241.79,145.86 L242.70,145.87 L243.61,145.87 L244.52,145.87 L245.43,145.88 L246.35,145.88 L247.26,145.88 L248.17,145.89 L249.08,145.89 L250.00,145.89 L250.91,145.90 L251.82,145.90 L252.73,145.90 L253.65,145.91 L254.56,145.91 L255.47,145.91 L256.38,145.92 L257.29,145.92 L258.21,145.92 L259.12,145.93 L260.03,145.93 L260.94,145.93 L261.86,145.94 L262.77,145.94 L263.68,145.94 L264.59,145.94 L265.50,145.95 L266.42,145.95 L267.33,145.95 L268.24,145.95 L269.15,145.96 L270.07,145.96 L270.98,145.96 L271.89,145.96 L272.80,145.97 L273.71,145.97 L274.63,145.97 L275.54,145.97 L276.45,145.97 L277.36,145.98 L278.28,145.98 L279.19,145.98 L280.10,145.98 L281.01,145.98 L281.92,145.98 L282.84,145.99 L283.75,145.99 L284.66,145.99 L285.57,145.99 L286.49,145.99 L287.40,145.99 L288.31,145.99 L289.22,145.99 L290.13,146.00 L291.05,146.00 L291.96,146.00 L292.87,146.00 L293.78,146.00 L294.70,146.00 L295.61,146.00 L296.52,146.00 L297.43,146.00 L298.35,146.00 L299.26,146.00 L300.17,146.00 L301.08,146.00 L301.99,146.00 L302.91,146.00 L303.82,146.00 L304.73,146.00 L305.64,146.00 L306.56,146.00 L307.47,146.00 L308.38,146.00 L309.29,146.00 L310.20,146.00 L311.12,146.00 L312.03,146.00 L312.94,146.00 L313.85,146.00 L314.77,146.00 L315.68,146.00 L316.59,146.00 L317.50,146.00 L318.41,146.00 L319.33,146.00 L320.24,146.00 L321.15,146.00 L322.06,146.00 L322.98,146.00 L323.89,146.00 L324.80,146.00 L325.71,146.00 L326.62,146.00 L327.54,146.00 L328.45,146.00 L329.36,146.00 L330.27,146.00 L331.19,146.00 L332.10,146.00 L333.01,146.00 L333.92,146.00 L334.83,146.00 L335.75,146.00 L336.66,146.00 L337.57,146.00 L338.48,146.00 L339.40,146.00 L340.31,146.00 L341.22,146.00 L342.13,146.00 L343.04,146.00 L343.96,146.00 L344.87,146.00 L345.78,146.00 L346.69,146.00 L347.61,146.00 L348.52,146.00 L349.43,146.00 L350.34,146.00 L351.26,146.00 L352.17,146.00 L353.08,146.00 L353.99,146.00 L354.90,146.00 L355.82,146.00 L356.73,146.00 L357.64,146.00 L358.55,146.00 L359.47,146.00 L360.38,146.00 L361.29,146.00 L362.20,146.00 L363.11,146.00 L364.03,146.00 L364.94,146.00 L365.85,146.00 L366.76,146.00 L367.68,146.00 L368.59,146.00 L369.50,146.00" stroke="#0000ff" stroke-width="2.45"/>
<path d="M86.70,149.40 L357.90,149.40 L358.70,148.90 L359.05,147.00 L359.10,-20.00" stroke="#00fa00" stroke-width="2.45"/>
<path d="M359.45,-20.00 L359.70,100.00 L359.70,100.00 L359.70,100.95 L359.72,101.91 L359.74,102.86 L359.77,103.81 L359.80,104.76 L359.84,105.71 L359.88,106.66 L359.93,107.61 L359.99,108.56 L360.04,109.51 L360.10,110.46 L360.16,111.41 L360.23,112.35 L360.32,113.30 L360.43,114.24 L360.56,115.19 L360.69,116.13 L360.82,117.07 L360.94,118.02 L361.05,118.96 L361.14,119.91 L361.23,120.86 L361.32,121.80 L361.41,122.75 L361.50,123.70 L361.58,124.65 L361.67,125.59 L361.76,126.54 L361.86,127.49 L361.98,128.43 L362.11,129.37 L362.26,130.31 L362.43,131.25 L362.61,132.19 L362.80,133.11 L363.02,134.04 L363.28,134.96 L363.56,135.88 L363.87,136.78 L364.20,137.67 L364.56,138.54 L364.97,139.40 L365.44,140.25 L365.95,141.06 L366.51,141.81 L367.12,142.52 L367.79,143.19 L368.52,143.81 L369.30,144.40" stroke="#00fa00" stroke-width="2.45"/>
<path d="M147.00,-24.42 L147.74,-22.48 L148.49,-20.57 L149.23,-18.68 L149.98,-16.81 L150.72,-14.97 L151.46,-13.15 L152.21,-11.35 L152.95,-9.57 L153.70,-7.82 L154.44,-6.09 L155.19,-4.38 L155.93,-2.70 L156.67,-1.03 L157.42,0.61 L158.16,2.24 L158.91,3.84 L159.65,5.42 L160.39,6.98 L161.14,8.52 L161.88,10.04 L162.63,11.55 L163.37,13.03 L164.12,14.49 L164.86,15.94 L165.60,17.36 L166.35,18.77 L167.09,20.16 L167.84,21.53 L168.58,22.89 L169.32,24.22 L170.07,25.54 L170.81,26.85 L171.56,28.13 L172.30,29.40 L173.05,30.66 L173.79,31.89 L174.53,33.11 L175.28,34.32 L176.02,35.51 L176.77,36.69 L177.51,37.85 L178.25,38.99 L179.00,40.13 L179.74,41.24 L180.49,42.35 L181.23,43.44 L181.97,44.52 L182.72,45.58 L183.46,46.63 L184.21,47.67 L184.95,48.69 L185.70,49.71 L186.44,50.71 L187.18,51.70 L187.93,52.68 L188.67,53.65 L189.42,54.60 L190.16,55.55 L190.90,56.48 L191.65,57.41 L192.39,58.32 L193.14,59.23 L193.88,60.12 L194.63,61.01 L195.37,61.89 L196.11,62.75 L196.86,63.61 L197.60,64.46 L198.35,65.31 L199.09,66.14 L199.83,66.97 L200.58,67.79 L201.32,68.60 L202.07,69.40 L202.81,70.19 L203.56,70.98 L204.30,71.76 L205.04,72.53 L205.79,73.30 L206.53,74.05 L207.28,74.80 L208.02,75.54 L208.76,76.28 L209.51,77.00 L210.25,77.72 L211.00,78.43 L211.74,79.14 L212.48,79.83 L213.23,80.53 L213.97,81.21 L214.72,81.88 L215.46,82.55 L216.21,83.22 L216.95,83.87 L217.69,84.52 L218.44,85.16 L219.18,85.80 L219.93,86.43 L220.67,87.05 L221.41,87.67 L222.16,88.28 L222.90,88.88 L223.65,89.48 L224.39,90.07 L225.14,90.65 L225.88,91.23 L226.62,91.80 L227.37,92.37 L228.11,92.93 L228.86,93.49 L229.60,94.04 L230.34,94.58 L231.09,95.12 L231.83,95.65 L232.58,96.17 L233.32,96.69 L234.07,97.21 L234.81,97.72 L235.55,98.22 L236.30,98.72 L237.04,99.22 L237.79,99.70 L238.53,100.19 L239.27,100.66 L240.02,101.14 L240.76,101.61 L241.51,102.07 L242.25,102.53 L242.99,102.98 L243.74,103.43 L244.48,103.87 L245.23,104.31 L245.97,104.75 L246.72,105.18 L247.46,105.60 L248.20,106.02 L248.95,106.44 L249.69,106.85 L250.44,107.26 L251.18,107.66 L251.92,108.06 L252.67,108.45 L253.41,108.84 L254.16,109.23 L254.90,109.61 L255.65,109.99 L256.39,110.36 L257.13,110.73 L257.88,111.10 L258.62,111.46 L259.37,111.82 L260.11,112.17 L260.85,112.52 L261.60,112.87 L262.34,113.21 L263.09,113.55 L263.83,113.88 L264.58,114.21 L265.32,114.54 L266.06,114.87 L266.81,115.19 L267.55,115.50 L268.30,115.82 L269.04,116.13 L269.78,116.44 L270.53,116.74 L271.27,117.04 L272.02,117.34 L272.76,117.64 L273.51,117.93 L274.25,118.22 L274.99,118.50 L275.74,118.78 L276.48,119.06 L277.23,119.34 L277.97,119.62 L278.71,119.89 L279.46,120.16 L280.20,120.42 L280.95,120.69 L281.69,120.95 L282.43,121.21 L283.18,121.46 L283.92,121.72 L284.67,121.97 L285.41,122.22 L286.16,122.46 L286.90,122.71 L287.64,122.95 L288.39,123.19 L289.13,123.42 L289.88,123.66 L290.62,123.89 L291.36,124.12 L292.11,124.35 L292.85,124.58 L293.60,124.81 L294.34,125.03 L295.09,125.25 L295.83,125.47 L296.57,125.69 L297.32,125.91 L298.06,126.12 L298.81,126.34 L299.55,126.55 L300.29,126.76 L301.04,126.97 L301.78,127.17 L302.53,127.38 L303.27,127.58 L304.02,127.79 L304.76,127.99 L305.50,128.19 L306.25,128.39 L306.99,128.58 L307.74,128.78 L308.48,128.97 L309.22,129.16 L309.97,129.36 L310.71,129.54 L311.46,129.73 L312.20,129.92 L312.94,130.10 L313.69,130.29 L314.43,130.47 L315.18,130.65 L315.92,130.82 L316.67,131.00 L317.41,131.17 L318.15,131.35 L318.90,131.52 L319.64,131.69 L320.39,131.86 L321.13,132.02 L321.87,132.19 L322.62,132.35 L323.36,132.51 L324.11,132.67 L324.85,132.83 L325.60,132.99 L326.34,133.14 L327.08,133.29 L327.83,133.45 L328.57,133.59 L329.32,133.74 L330.06,133.89 L330.80,134.03 L331.55,134.18 L332.29,134.32 L333.04,134.45 L333.78,134.59 L334.53,134.73 L335.27,134.86 L336.01,134.99 L336.76,135.12 L337.50,135.25 L338.25,135.38 L338.99,135.50 L339.73,135.62 L340.48,135.74 L341.22,135.86 L341.97,135.98 L342.71,136.10 L343.45,136.21 L344.20,136.32 L344.94,136.43 L345.69,136.54 L346.43,136.64 L347.18,136.75 L347.92,136.85 L348.66,136.95 L349.41,137.05 L350.15,137.14 L350.90,137.24 L351.64,137.33 L352.38,137.42 L353.13,137.51 L353.87,137.60 L354.62,137.68 L355.36,137.76 L356.11,137.84 L356.85,137.92 L357.59,138.00 L358.34,138.07 L359.08,138.14 L359.83,138.22 L360.57,138.28 L361.31,138.35 L362.06,138.41 L362.80,138.48 L363.55,138.54 L364.29,138.59 L365.04,138.65 L365.78,138.70 L366.52,138.76 L367.27,138.81 L368.01,138.85 L368.76,138.90 L369.50,138.94" stroke="#ff0000" stroke-width="2.6"/>
<path d="M149.20,-24.36 L149.90,-22.63 L150.60,-20.91 L151.30,-19.22 L152.00,-17.54 L152.70,-15.88 L153.40,-14.23 L154.10,-12.61 L154.79,-11.00 L155.49,-9.41 L156.19,-7.83 L156.89,-6.27 L157.59,-4.73 L158.29,-3.21 L158.99,-1.70 L159.69,-0.21 L160.39,1.27 L161.09,2.73 L161.79,4.17 L162.49,5.60 L163.19,7.02 L163.89,8.42 L164.59,9.80 L165.28,11.17 L165.98,12.52 L166.68,13.86 L167.38,15.18 L168.08,16.49 L168.78,17.79 L169.48,19.07 L170.18,20.33 L170.88,21.59 L171.58,22.83 L172.28,24.05 L172.98,25.27 L173.68,26.47 L174.38,27.65 L175.08,28.82 L175.77,29.99 L176.47,31.13 L177.17,32.27 L177.87,33.39 L178.57,34.50 L179.27,35.60 L179.97,36.69 L180.67,37.76 L181.37,38.83 L182.07,39.88 L182.77,40.92 L183.47,41.95 L184.17,42.97 L184.87,43.98 L185.57,44.97 L186.26,45.96 L186.96,46.94 L187.66,47.90 L188.36,48.86 L189.06,49.80 L189.76,50.74 L190.46,51.67 L191.16,52.58 L191.86,53.49 L192.56,54.39 L193.26,55.28 L193.96,56.16 L194.66,57.03 L195.36,57.89 L196.06,58.75 L196.75,59.59 L197.45,60.43 L198.15,61.26 L198.85,62.08 L199.55,62.90 L200.25,63.70 L200.95,64.50 L201.65,65.29 L202.35,66.07 L203.05,66.85 L203.75,67.61 L204.45,68.37 L205.15,69.13 L205.85,69.87 L206.55,70.61 L207.24,71.34 L207.94,72.06 L208.64,72.78 L209.34,73.48 L210.04,74.18 L210.74,74.88 L211.44,75.57 L212.14,76.25 L212.84,76.92 L213.54,77.59 L214.24,78.25 L214.94,78.90 L215.64,79.55 L216.34,80.19 L217.04,80.82 L217.73,81.45 L218.43,82.07 L219.13,82.68 L219.83,83.29 L220.53,83.89 L221.23,84.49 L221.93,85.08 L222.63,85.66 L223.33,86.24 L224.03,86.81 L224.73,87.38 L225.43,87.94 L226.13,88.50 L226.83,89.04 L227.53,89.59 L228.22,90.13 L228.92,90.66 L229.62,91.19 L230.32,91.71 L231.02,92.23 L231.72,92.74 L232.42,93.25 L233.12,93.75 L233.82,94.25 L234.52,94.74 L235.22,95.22 L235.92,95.71 L236.62,96.18 L237.32,96.66 L238.02,97.12 L238.71,97.59 L239.41,98.05 L240.11,98.50 L240.81,98.95 L241.51,99.40 L242.21,99.84 L242.91,100.28 L243.61,100.71 L244.31,101.14 L245.01,101.57 L245.71,101.99 L246.41,102.40 L247.11,102.82 L247.81,103.23 L248.51,103.63 L249.20,104.04 L249.90,104.44 L250.60,104.83 L251.30,105.22 L252.00,105.61 L252.70,106.00 L253.40,106.38 L254.10,106.76 L254.80,107.13 L255.50,107.50 L256.20,107.87 L256.90,108.23 L257.60,108.60 L258.30,108.95 L258.99,109.31 L259.69,109.66 L260.39,110.01 L261.09,110.35 L261.79,110.70 L262.49,111.03 L263.19,111.37 L263.89,111.70 L264.59,112.03 L265.29,112.36 L265.99,112.68 L266.69,113.00 L267.39,113.32 L268.09,113.63 L268.79,113.94 L269.48,114.25 L270.18,114.56 L270.88,114.86 L271.58,115.16 L272.28,115.45 L272.98,115.75 L273.68,116.04 L274.38,116.32 L275.08,116.61 L275.78,116.89 L276.48,117.17 L277.18,117.45 L277.88,117.72 L278.58,117.99 L279.28,118.26 L279.97,118.53 L280.67,118.79 L281.37,119.05 L282.07,119.31 L282.77,119.56 L283.47,119.81 L284.17,120.06 L284.87,120.31 L285.57,120.56 L286.27,120.80 L286.97,121.04 L287.67,121.28 L288.37,121.51 L289.07,121.74 L289.77,121.97 L290.46,122.20 L291.16,122.43 L291.86,122.65 L292.56,122.87 L293.26,123.09 L293.96,123.30 L294.66,123.52 L295.36,123.73 L296.06,123.94 L296.76,124.15 L297.46,124.35 L298.16,124.55 L298.86,124.75 L299.56,124.95 L300.26,125.15 L300.95,125.34 L301.65,125.54 L302.35,125.73 L303.05,125.91 L303.75,126.10 L304.45,126.28 L305.15,126.47 L305.85,126.65 L306.55,126.82 L307.25,127.00 L307.95,127.18 L308.65,127.35 L309.35,127.52 L310.05,127.69 L310.75,127.85 L311.44,128.02 L312.14,128.18 L312.84,128.34 L313.54,128.50 L314.24,128.66 L314.94,128.82 L315.64,128.97 L316.34,129.13 L317.04,129.28 L317.74,129.43 L318.44,129.58 L319.14,129.72 L319.84,129.87 L320.54,130.01 L321.24,130.15 L321.93,130.30 L322.63,130.43 L323.33,130.57 L324.03,130.71 L324.73,130.84 L325.43,130.98 L326.13,131.11 L326.83,131.24 L327.53,131.37 L328.23,131.50 L328.93,131.62 L329.63,131.75 L330.33,131.87 L331.03,132.00 L331.73,132.12 L332.42,132.24 L333.12,132.36 L333.82,132.48 L334.52,132.59 L335.22,132.71 L335.92,132.82 L336.62,132.94 L337.32,133.05 L338.02,133.16 L338.72,133.27 L339.42,133.38 L340.12,133.49 L340.82,133.60 L341.52,133.70 L342.22,133.81 L342.91,133.91 L343.61,134.02 L344.31,134.12 L345.01,134.22 L345.71,134.32 L346.41,134.42 L347.11,134.52 L347.81,134.62 L348.51,134.72 L349.21,134.82 L349.91,134.92 L350.61,135.01 L351.31,135.11 L352.01,135.20 L352.71,135.30 L353.40,135.39 L354.10,135.48 L354.80,135.57 L355.50,135.67 L356.20,135.76 L356.90,135.85 L357.60,135.94 L358.30,136.03 L359.20,135.60 L359.20,-20.00" stroke="#000" stroke-width="2.4" stroke-linejoin="miter"/>
<path d="M359.30,-20.00 L359.60,90.00 L359.60,90.00 L359.60,91.15 L359.61,92.29 L359.62,93.43 L359.64,94.58 L359.67,95.72 L359.70,96.86 L359.73,98.00 L359.77,99.13 L359.81,100.27 L359.86,101.41 L359.91,102.54 L359.96,103.67 L360.02,104.81 L360.08,105.94 L360.14,107.07 L360.21,108.20 L360.32,109.33 L360.46,110.46 L360.65,111.59 L360.85,112.71 L361.07,113.83 L361.29,114.95 L361.56,116.05 L361.86,117.15 L362.18,118.24 L362.51,119.33 L362.85,120.42 L363.21,121.51 L363.60,122.58 L364.01,123.63 L364.47,124.68 L364.96,125.71 L365.49,126.72 L366.05,127.71 L366.64,128.67 L367.28,129.62 L367.95,130.54 L368.65,131.44 L369.40,132.30" stroke="#000" stroke-width="2.4"/>
</g>
<g stroke="#000" stroke-width="1.3" fill="none">
<rect x="80.0" y="0.5" width="294.35" height="294.7"/>
</g>
<g stroke="#000" stroke-width="1.25" fill="none">
<line x1="85.40" y1="295.2" x2="85.40" y2="290.59999999999997"/>
<line x1="85.40" y1="0.5" x2="85.40" y2="5.1"/>
<line x1="103.12" y1="295.2" x2="103.12" y2="292.4"/>
<line x1="103.12" y1="0.5" x2="103.12" y2="3.3000000000000003"/>
<line x1="120.83" y1="295.2" x2="120.83" y2="292.4"/>
<line x1="120.83" y1="0.5" x2="120.83" y2="3.3000000000000003"/>
<line x1="138.55" y1="295.2" x2="138.55" y2="292.4"/>
<line x1="138.55" y1="0.5" x2="138.55" y2="3.3000000000000003"/>
<line x1="156.26" y1="295.2" x2="156.26" y2="290.59999999999997"/>
<line x1="156.26" y1="0.5" x2="156.26" y2="5.1"/>
<line x1="173.98" y1="295.2" x2="173.98" y2="292.4"/>
<line x1="173.98" y1="0.5" x2="173.98" y2="3.3000000000000003"/>
<line x1="191.69" y1="295.2" x2="191.69" y2="292.4"/>
<line x1="191.69" y1="0.5" x2="191.69" y2="3.3000000000000003"/>
<line x1="209.41" y1="295.2" x2="209.41" y2="292.4"/>
<line x1="209.41" y1="0.5" x2="209.41" y2="3.3000000000000003"/>
<line x1="227.12" y1="295.2" x2="227.12" y2="290.59999999999997"/>
<line x1="227.12" y1="0.5" x2="227.12" y2="5.1"/>
<line x1="244.84" y1="295.2" x2="244.84" y2="292.4"/>
<line x1="244.84" y1="0.5" x2="244.84" y2="3.3000000000000003"/>
<line x1="262.55" y1="295.2" x2="262.55" y2="292.4"/>
<line x1="262.55" y1="0.5" x2="262.55" y2="3.3000000000000003"/>
<line x1="280.26" y1="295.2" x2="280.26" y2="292.4"/>
<line x1="280.26" y1="0.5" x2="280.26" y2="3.3000000000000003"/>
<line x1="297.98" y1="295.2" x2="297.98" y2="290.59999999999997"/>
<line x1="297.98" y1="0.5" x2="297.98" y2="5.1"/>
<line x1="315.69" y1="295.2" x2="315.69" y2="292.4"/>
<line x1="315.69" y1="0.5" x2="315.69" y2="3.3000000000000003"/>
<line x1="333.41" y1="295.2" x2="333.41" y2="292.4"/>
<line x1="333.41" y1="0.5" x2="333.41" y2="3.3000000000000003"/>
<line x1="351.12" y1="295.2" x2="351.12" y2="292.4"/>
<line x1="351.12" y1="0.5" x2="351.12" y2="3.3000000000000003"/>
<line x1="368.84" y1="295.2" x2="368.84" y2="290.59999999999997"/>
<line x1="368.84" y1="0.5" x2="368.84" y2="5.1"/>
<line x1="80.0" y1="284.79" x2="83.19999999999999" y2="284.79"/>
<line x1="374.35" y1="284.79" x2="371.65" y2="284.79"/>
<line x1="80.0" y1="274.26" x2="85.1" y2="274.26"/>
<line x1="374.35" y1="274.26" x2="369.75" y2="274.26"/>
<line x1="80.0" y1="263.73" x2="83.19999999999999" y2="263.73"/>
<line x1="374.35" y1="263.73" x2="371.65" y2="263.73"/>
<line x1="80.0" y1="253.20" x2="83.19999999999999" y2="253.20"/>
<line x1="374.35" y1="253.20" x2="371.65" y2="253.20"/>
<line x1="80.0" y1="242.67" x2="83.19999999999999" y2="242.67"/>
<line x1="374.35" y1="242.67" x2="371.65" y2="242.67"/>
<line x1="80.0" y1="232.14" x2="85.1" y2="232.14"/>
<line x1="374.35" y1="232.14" x2="369.75" y2="232.14"/>
<line x1="80.0" y1="221.61" x2="83.19999999999999" y2="221.61"/>
<line x1="374.35" y1="221.61" x2="371.65" y2="221.61"/>
<line x1="80.0" y1="211.08" x2="83.19999999999999" y2="211.08"/>
<line x1="374.35" y1="211.08" x2="371.65" y2="211.08"/>
<line x1="80.0" y1="200.55" x2="83.19999999999999" y2="200.55"/>
<line x1="374.35" y1="200.55" x2="371.65" y2="200.55"/>
<line x1="80.0" y1="190.02" x2="85.1" y2="190.02"/>
<line x1="374.35" y1="190.02" x2="369.75" y2="190.02"/>
<line x1="80.0" y1="179.49" x2="83.19999999999999" y2="179.49"/>
<line x1="374.35" y1="179.49" x2="371.65" y2="179.49"/>
<line x1="80.0" y1="168.96" x2="83.19999999999999" y2="168.96"/>
<line x1="374.35" y1="168.96" x2="371.65" y2="168.96"/>
<line x1="80.0" y1="158.43" x2="83.19999999999999" y2="158.43"/>
<line x1="374.35" y1="158.43" x2="371.65" y2="158.43"/>
<line x1="80.0" y1="147.90" x2="85.1" y2="147.90"/>
<line x1="374.35" y1="147.90" x2="369.75" y2="147.90"/>
<line x1="80.0" y1="137.37" x2="83.19999999999999" y2="137.37"/>
<line x1="374.35" y1="137.37" x2="371.65" y2="137.37"/>
<line x1="80.0" y1="126.84" x2="83.19999999999999" y2="126.84"/>
<line x1="374.35" y1="126.84" x2="371.65" y2="126.84"/>
<line x1="80.0" y1="116.31" x2="83.19999999999999" y2="116.31"/>
<line x1="374.35" y1="116.31" x2="371.65" y2="116.31"/>
<line x1="80.0" y1="105.78" x2="85.1" y2="105.78"/>
<line x1="374.35" y1="105.78" x2="369.75" y2="105.78"/>
<line x1="80.0" y1="95.25" x2="83.19999999999999" y2="95.25"/>
<line x1="374.35" y1="95.25" x2="371.65" y2="95.25"/>
<line x1="80.0" y1="84.72" x2="83.19999999999999" y2="84.72"/>
<line x1="374.35" y1="84.72" x2="371.65" y2="84.72"/>
<line x1="80.0" y1="74.19" x2="83.19999999999999" y2="74.19"/>
<line x1="374.35" y1="74.19" x2="371.65" y2="74.19"/>
<line x1="80.0" y1="63.66" x2="85.1" y2="63.66"/>
<line x1="374.35" y1="63.66" x2="369.75" y2="63.66"/>
<line x1="80.0" y1="53.13" x2="83.19999999999999" y2="53.13"/>
<line x1="374.35" y1="53.13" x2="371.65" y2="53.13"/>
<line x1="80.0" y1="42.60" x2="83.19999999999999" y2="42.60"/>
<line x1="374.35" y1="42.60" x2="371.65" y2="42.60"/>
<line x1="80.0" y1="32.07" x2="83.19999999999999" y2="32.07"/>
<line x1="374.35" y1="32.07" x2="371.65" y2="32.07"/>
<line x1="80.0" y1="21.54" x2="85.1" y2="21.54"/>
<line x1="374.35" y1="21.54" x2="369.75" y2="21.54"/>
<line x1="80.0" y1="11.01" x2="83.19999999999999" y2="11.01"/>
<line x1="374.35" y1="11.01" x2="371.65" y2="11.01"/>
<line x1="80.0" y1="0.48" x2="83.19999999999999" y2="0.48"/>
<line x1="374.35" y1="0.48" x2="371.65" y2="0.48"/>
</g>
<g font-family="Liberation Serif, serif" font-size="18.5" fill="#000">
<text x="85.50" y="320.7" text-anchor="middle">0</text>
<text x="156.36" y="320.7" text-anchor="middle">2</text>
<text x="227.22" y="320.7" text-anchor="middle">4</text>
<text x="298.08" y="320.7" text-anchor="middle">6</text>
<text x="368.94" y="320.7" text-anchor="middle">8</text>
<text x="75.8" y="29.44" text-anchor="end">0.6</text>
<text x="75.8" y="71.56" text-anchor="end">0.4</text>
<text x="75.8" y="113.68" text-anchor="end">0.2</text>
<text x="75.8" y="155.80" text-anchor="end">0.0</text>
<text x="75.8" y="197.92" text-anchor="end">0.2</text>
<line x1="41.8" y1="193.92" x2="50.4" y2="193.92" stroke="#000" stroke-width="0.9"/>
<text x="75.8" y="240.04" text-anchor="end">0.4</text>
<line x1="41.8" y1="236.04" x2="50.4" y2="236.04" stroke="#000" stroke-width="0.9"/>
<text x="75.8" y="282.16" text-anchor="end">0.6</text>
<line x1="41.8" y1="278.16" x2="50.4" y2="278.16" stroke="#000" stroke-width="0.9"/>
</g>
<g stroke-width="2.5" fill="none">
<line x1="101.4" y1="242.3" x2="122.7" y2="242.3" stroke="#0000ff"/>
<line x1="101.4" y1="274.2" x2="122.7" y2="274.2" stroke="#ff0000"/>
<line x1="180.7" y1="242.3" x2="202" y2="242.3" stroke="#00fa00"/>
<line x1="180.7" y1="274.2" x2="202" y2="274.2" stroke="#000"/>
</g>
<g font-family="Liberation Serif, serif" font-size="16" fill="#000">
<text transform="translate(129.9,247.7) scale(0.965,1)">7<tspan font-style="italic" dx="1.0">A</tspan><tspan dx="0.5">eff</tspan></text>
<text transform="translate(129.9,279.7) scale(0.965,1)">7<tspan font-style="italic" dx="1.0">B</tspan><tspan dx="0.5">eff</tspan></text>
<text transform="translate(209.0,247.7) scale(0.95,1)">9eff</text>
<text transform="translate(209.2,279.7) scale(0.97,1)">All</text>
</g>
<g transform="translate(25.2,203.1) rotate(-90)" font-family="Liberation Serif, serif" fill="#000" stroke="#fff" stroke-width="0.3">
<text transform="translate(-0.4,0) scale(0.87,1)" font-size="22">I</text>
<text transform="translate(6.6,0) scale(0.87,1)" font-size="22">m</text>
<g fill="none" stroke="#000" stroke-linecap="round" stroke-linejoin="round">
<path d="M36.9,-15.3 L40.4,-0.3" stroke-width="2.3"/>
<path d="M38.6,0.2 L42.3,0.2" stroke-width="0.9"/>
<path d="M36.9,-15.6 C34.5,-10.5 31.5,-5 28.6,-1.6 C27.6,-0.4 26.4,0.2 25.6,-0.4" stroke-width="0.95"/>
<circle cx="26.0" cy="-1.0" r="0.9" fill="#000" stroke="none"/>
<path d="M31.2,-4.7 L39.2,-4.7" stroke-width="0.85"/>
<path d="M34.6,-15.4 L37.2,-15.6" stroke-width="0.9"/>
</g>
<line x1="24.3" y1="-17.6" x2="40.6" y2="-17.6" stroke="#000" stroke-width="0.85"/>
<text x="41.6" y="5.0" font-size="15.0" font-style="italic">L</text>
<text x="50.4" y="5.0" font-size="15.0" font-style="italic">V</text>
<text x="41.2" y="-11.6" font-size="17.5">(</text>
<text x="48.2" y="-12.5" font-size="15.2" font-style="italic">i</text>
<text x="53.4" y="-12.5" font-size="15.2">,</text>
<text transform="translate(57.6,-12.5) scale(0.9,1)" font-size="15.2">L</text>
<text transform="translate(66.0,-12.5) scale(0.9,1)" font-size="15.2">P</text>
<text x="73.9" y="-11.6" font-size="17.5">)</text>
<text x="79.9" y="0.3" font-size="24.5">(</text>
<text transform="translate(86.6,0) scale(0.84,1)" font-size="22" font-style="italic">q</text>
<text transform="translate(96.6,-9.4) scale(0.95,1)" font-size="15.0">2</text>
<text x="103.7" y="0.3" font-size="24.5">)</text>
</g>
</svg>
</body></html>
